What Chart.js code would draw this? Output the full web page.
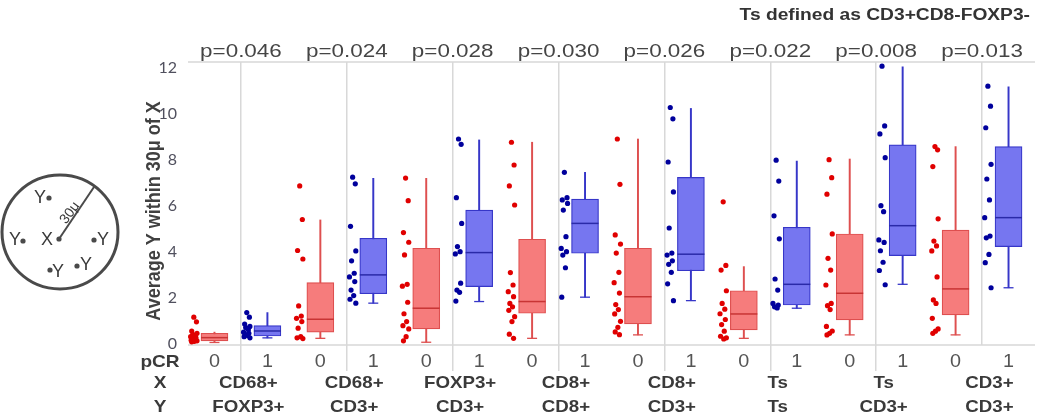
<!DOCTYPE html>
<html><head><meta charset="utf-8">
<script src="https://cdn.jsdelivr.net/npm/chart.js@4.4.0/dist/chart.umd.min.js"></script>
<style>html,body{margin:0;padding:0;background:#fff;}canvas{display:block;}</style>
</head><body>
<canvas id="c" width="1050" height="419"></canvas>
<script>
// ---------- data ----------
const xCells = ['CD68+','CD68+','FOXP3+','CD8+','CD8+','Ts','Ts','CD3+'];
const yCells = ['FOXP3+','CD3+','CD3+','CD8+','CD3+','Ts','CD3+','CD3+'];
const pValues = ['p=0.046','p=0.024','p=0.028','p=0.030','p=0.026','p=0.022','p=0.008','p=0.013'];
const pcrLabels = ['0','1'];
const yTicks = [0,2,4,6,8,10,12];

// pCR = 0 (red) box statistics
const redMin = [0.05, 0.23, 0.06, 0.23, 0.38, 0.23, 0.38, 0.38];
const redQ1  = [0.12, 0.50, 0.64, 1.32, 0.86, 0.60, 1.03, 1.25];
const redMed = [0.26, 1.06, 1.54, 1.83, 2.04, 1.29, 2.19, 2.38];
const redQ3  = [0.45, 2.65, 4.15, 4.54, 4.15, 2.30, 4.77, 4.94];
const redMax = [0.50, 5.38, 7.19, 8.76, 8.90, 3.35, 8.03, 8.57];

// pCR = 1 (blue) box statistics
const blueMin = [0.25, 1.76, 1.83, 2.02, 1.87, 1.54, 2.58, 2.43];
const blueQ1  = [0.33, 2.17, 2.48, 3.93, 3.17, 1.68, 3.83, 4.22];
const blueMed = [0.55, 2.99, 3.96, 5.23, 3.89, 2.58, 5.13, 5.48];
const blueQ3  = [0.78, 4.58, 5.81, 6.29, 7.23, 5.06, 8.65, 8.57];
const blueMax = [1.35, 7.19, 8.86, 7.45, 10.23, 7.94, 12.04, 11.17];

// individual observations
const redPoints = [
  [1.15, 0.95, 0.55, 0.45, 0.40, 0.35, 0.30, 0.25, 0.20, 0.18, 0.15, 0.12, 0.10, 0.08],
  [6.86, 5.40, 4.05, 3.68, 1.64, 1.20, 1.10, 0.96, 0.67, 0.30, 0.25, 0.22],
  [7.20, 6.22, 4.83, 4.41, 3.86, 2.58, 2.50, 1.80, 1.30, 0.96, 0.78, 0.64, 0.30, 0.12],
  [8.76, 7.77, 6.86, 6.03, 3.09, 2.55, 2.26, 2.04, 1.75, 1.60, 1.45, 1.17, 0.96, 0.41, 0.23],
  [8.90, 6.93, 4.73, 4.33, 3.94, 3.10, 2.65, 2.20, 1.70, 1.48, 1.29, 0.97, 0.71, 0.51, 0.39],
  [6.17, 3.40, 3.20, 2.30, 1.75, 1.50, 1.30, 1.05, 0.83, 0.54, 0.32, 0.25, 0.20],
  [8.00, 7.22, 6.50, 4.77, 3.71, 3.20, 2.55, 1.75, 1.65, 1.48, 0.75, 0.55, 0.45, 0.38],
  [8.57, 8.43, 7.70, 5.43, 4.46, 4.25, 4.03, 2.90, 1.90, 1.75, 1.10, 0.64, 0.54, 0.45]
];
const bluePoints = [
  [1.35, 1.15, 0.85, 0.75, 0.70, 0.60, 0.50, 0.45, 0.40, 0.35, 0.30, 0.25],
  [7.24, 6.95, 5.10, 4.03, 3.60, 3.06, 2.90, 2.70, 2.33, 2.09, 1.93, 1.76],
  [8.90, 8.67, 6.35, 5.23, 4.22, 4.00, 3.90, 2.63, 2.33, 2.23, 1.85],
  [7.45, 6.35, 6.25, 6.10, 5.81, 4.65, 4.14, 4.00, 3.85, 3.30, 2.02],
  [10.27, 9.78, 7.90, 6.60, 5.03, 3.94, 3.85, 3.60, 3.45, 3.10, 2.60, 1.87],
  [7.98, 7.07, 5.56, 4.56, 2.81, 2.33, 1.75, 1.68, 1.60, 1.55],
  [12.07, 9.47, 9.12, 8.09, 6.00, 5.74, 4.51, 4.40, 4.04, 3.54, 3.18, 2.56],
  [11.20, 10.33, 9.39, 7.80, 7.16, 6.25, 5.48, 4.68, 4.60, 3.88, 3.52, 2.43]
];

// ---------- layout / style constants ----------
const POS0 = 0.25, POS1 = 0.75;          // box centres within a panel
const PT0 = 0.055, PT1 = 0.555;          // point strip centres
const jitter = [0.0, 0.025, -0.02, 0.03, -0.01, 0.015, -0.03, 0.02, -0.015, 0.01, -0.025, 0.03, 0.005, -0.02, 0.02];
const RED_FILL = '#f67c7c', RED_LINE = '#de4f4f', RED_DOT = '#e00000';
const BLUE_FILL = '#7676f0', BLUE_LINE = '#3636c8', BLUE_DOT = '#00009c';
const FRAME = '#d8d8d8';
const FONT = '"Liberation Sans", Arial, sans-serif';
const panels = xCells.map((_, i) => i);

const at = (off, vals) => panels.map(i => ({x: i + off, y: vals[i]}));
const range = (off, lo, hi) => panels.map(i => ({x: i + off, y: [lo[i], hi[i]]}));
const strip = (off, pts) => pts.flatMap((arr, i) => arr.map((v, k) => ({x: i + off + jitter[k % jitter.length], y: v})));

function txt(ctx, s, x, y, sx) {
  ctx.save(); ctx.translate(x, y); ctx.scale(sx, 1); ctx.fillText(s, 0, 0); ctx.restore();
}

const decor = {
  id: 'decor',
  beforeDraw(chart) {
    const c = chart.ctx; c.save(); c.fillStyle = '#fff'; c.fillRect(0, 0, chart.width, chart.height); c.restore();
  },
  beforeDatasetsDraw(chart) {
    const {ctx, chartArea: a} = chart;
    ctx.save(); ctx.strokeStyle = FRAME; ctx.lineWidth = 1.5;
    ctx.beginPath(); ctx.moveTo(a.left, a.top); ctx.lineTo(a.right, a.top);
    ctx.moveTo(a.left, a.bottom); ctx.lineTo(a.right, a.bottom); ctx.stroke();
    ctx.restore();
  },
  afterDraw(chart) {
    const {ctx, scales: {x}} = chart;
    ctx.save();
    ctx.textAlign = 'center'; ctx.textBaseline = 'middle';
    // p-values
    ctx.fillStyle = '#454545'; ctx.font = '19px ' + FONT;
    panels.forEach(i => txt(ctx, pValues[i], x.getPixelForValue(i + 0.5), 52, 1.18));
    // title
    ctx.textAlign = 'right'; ctx.fillStyle = '#333'; ctx.font = 'bold 16px ' + FONT;
    txt(ctx, 'Ts defined as CD3+CD8-FOXP3-', 1030, 16, 1.2);
    // y title
    ctx.save(); ctx.translate(155, 211); ctx.rotate(-Math.PI / 2);
    ctx.textAlign = 'center'; ctx.fillStyle = '#404040'; ctx.font = 'bold 18px ' + FONT;
    ctx.scale(1, 1.1);
    ctx.fillText('Average Y within 30\u03bc of X', 0, 0); ctx.restore();
    // row headers
    ctx.textAlign = 'center'; ctx.fillStyle = '#3a3a3a'; ctx.font = 'bold 17px ' + FONT;
    txt(ctx, 'pCR', 160, 362, 1.12); txt(ctx, 'X', 160, 383, 1.12); txt(ctx, 'Y', 160, 407, 1.12);
    // pCR labels
    ctx.fillStyle = '#555'; ctx.font = '18px ' + FONT;
    panels.forEach(i => {
      txt(ctx, pcrLabels[0], x.getPixelForValue(i + POS0), 362, 1.1);
      txt(ctx, pcrLabels[1], x.getPixelForValue(i + POS1), 362, 1.1);
    });
    // X / Y cell labels
    ctx.fillStyle = '#3a3a3a'; ctx.font = 'bold 17px ' + FONT;
    panels.forEach(i => {
      const px = x.getPixelForValue(i + 0.57);
      txt(ctx, xCells[i], px, 383, 1.1);
      txt(ctx, yCells[i], px, 407, 1.1);
    });
    // schematic circle
    ctx.strokeStyle = '#4a4a4a'; ctx.lineWidth = 3;
    ctx.beginPath(); ctx.ellipse(60, 232, 58, 57, 0, 0, Math.PI * 2); ctx.stroke();
    ctx.lineWidth = 2; ctx.beginPath(); ctx.moveTo(59, 239); ctx.lineTo(94, 187); ctx.stroke();
    ctx.fillStyle = '#4a4a4a';
    const dots = [[49,198],[23,241],[59,239],[94,240],[50,270],[77,266]];
    dots.forEach(([dx, dy]) => { ctx.beginPath(); ctx.arc(dx, dy, 2.6, 0, Math.PI * 2); ctx.fill(); });
    ctx.fillStyle = '#3a3a3a'; ctx.font = '18px ' + FONT;
    [['Y',40,198],['Y',15,240],['X',47,240],['Y',103,240],['Y',58,272],['Y',86,265]].forEach(([t, tx, ty]) => ctx.fillText(t, tx, ty));
    ctx.save(); ctx.translate(70, 213); ctx.rotate(-53 * Math.PI / 180);
    ctx.font = '14px ' + FONT; ctx.fillText('30\u03bc', 0, 0); ctx.restore();
    ctx.restore();
  }
};

new Chart(document.getElementById('c'), {
  type: 'bar',
  data: {
    datasets: [
      {type: 'bar', data: range(POS0, redMin, redMax), backgroundColor: RED_LINE, barThickness: 1.3, grouped: false, order: 6},
      {type: 'bar', data: range(POS1, blueMin, blueMax), backgroundColor: BLUE_LINE, barThickness: 1.3, grouped: false, order: 6},
      {type: 'bar', data: range(POS0, redQ1, redQ3), backgroundColor: RED_FILL, borderColor: RED_LINE, borderWidth: 1.2, borderSkipped: false, barThickness: 27, grouped: false, order: 5},
      {type: 'bar', data: range(POS1, blueQ1, blueQ3), backgroundColor: BLUE_FILL, borderColor: BLUE_LINE, borderWidth: 1.2, borderSkipped: false, barThickness: 27, grouped: false, order: 5},
      {type: 'scatter', data: at(POS0, redMed), pointStyle: 'line', pointRadius: 13.5, borderColor: '#c83434', borderWidth: 1.5, order: 4},
      {type: 'scatter', data: at(POS1, blueMed), pointStyle: 'line', pointRadius: 13.5, borderColor: '#2a2aa8', borderWidth: 1.5, order: 4},
      {type: 'scatter', data: at(POS0, redMin), pointStyle: 'line', pointRadius: 5, borderColor: RED_LINE, borderWidth: 1.3, order: 4},
      {type: 'scatter', data: at(POS1, blueMin), pointStyle: 'line', pointRadius: 5, borderColor: BLUE_LINE, borderWidth: 1.3, order: 4},
      {type: 'scatter', data: strip(PT0, redPoints), pointRadius: 2.6, backgroundColor: RED_DOT, borderWidth: 0, order: 1},
      {type: 'scatter', data: strip(PT1, bluePoints), pointRadius: 2.6, backgroundColor: BLUE_DOT, borderWidth: 0, order: 1}
    ]
  },
  options: {
    responsive: false, animation: false, events: [],
    layout: {padding: {top: 62, right: 15, left: 0, bottom: 0}},
    plugins: {legend: {display: false}, tooltip: {enabled: false}, title: {display: false}},
    scales: {
      x: {
        type: 'linear', min: 0, max: 8, offset: false,
        afterBuildTicks: s => { s.ticks = panels.concat([8]).map(v => ({value: v})); },
        afterFit: s => { s.height = 74; },
        ticks: {display: false},
        border: {display: false},
        grid: {color: FRAME, lineWidth: 1.5, drawTicks: true, tickLength: 26,
               tickColor: c => (c.index === 0 || c.index === 8) ? 'rgba(0,0,0,0)' : FRAME}
      },
      y: {
        min: -0.06, max: 12.25,
        afterBuildTicks: s => { s.ticks = yTicks.map(v => ({value: v})); },
        afterFit: s => { s.width = 188; },
        grid: {display: false}, border: {display: false},
        ticks: {color: '#50505e', font: {family: 'Lato, "Liberation Sans", sans-serif', size: 16}, padding: 3}
      }
    }
  },
  plugins: [decor]
});
</script>
</body></html>
